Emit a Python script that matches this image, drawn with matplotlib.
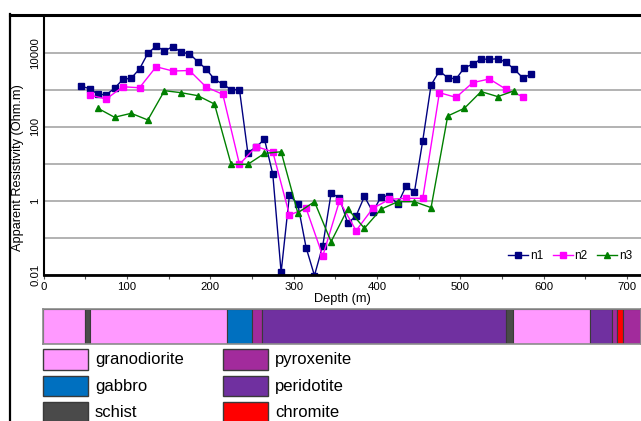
import matplotlib
matplotlib.use("Agg")
import matplotlib.pyplot as plt
from matplotlib.patches import Rectangle
from matplotlib.lines import Line2D
from matplotlib.ticker import MultipleLocator, NullLocator

plt.rcParams['font.family'] = ['Liberation Sans', 'DejaVu Sans']

# apparent resistivity for each n level (Ohm.m)
n1_depth = list(range(45, 586, 10))
n1_res = [1240, 1070, 755, 730, 1090, 1900, 2040, 3630, 9600, 15100,
          11100, 14700, 10200, 9400, 5700, 3630, 1900, 1420, 1000, 1000,
          20, 28, 46, 5.2, 0.0116, 1.43, 0.81, 0.054, 0.0095, 0.061,
          1.58, 1.2, 0.245, 0.39, 1.3, 0.5, 1.28, 1.36, 0.81, 2.5,
          1.7, 42, 1340, 3200, 2100, 1950, 3950, 4860, 6770, 6600,
          6900, 5500, 3550, 2100, 2600]
n2_depth = list(range(55, 576, 20))
n2_res = [720, 560, 1200, 1130, 4170, 3200, 3300, 1180, 750, 9.6,
          29, 21, 0.41, 0.62, 0.032, 0.98, 0.155, 0.62, 1.09, 1.16,
          1.16, 830, 620, 1550, 1950, 1030, 650]
n3_depth = list(range(65, 566, 20))
n3_res = [315, 180, 230, 152, 940, 830, 690, 410, 9.6, 9.6,
          19, 21, 0.47, 0.94, 0.078, 0.6, 0.18, 0.59, 0.94, 0.94,
          0.65, 195, 315, 890, 650, 940]

# lithology log
lith_from = [0, 50, 56, 221, 251, 262, 555, 563, 656, 682, 688, 695]
lith_to = [50, 56, 221, 251, 262, 555, 563, 656, 682, 688, 695, 720]
lith_rock = ['granodiorite', 'schist', 'granodiorite', 'gabbro', 'pyroxenite',
             'peridotite', 'schist', 'granodiorite', 'peridotite', 'pyroxenite',
             'chromite', 'pyroxenite']
rock_names = ['granodiorite', 'gabbro', 'schist', 'pyroxenite', 'peridotite', 'chromite']
rock_colors = ['#ff99ff', '#0070c0', '#4a4a4a', '#a22b9c', '#7030a0', '#ff0000']
colors = dict(zip(rock_names, rock_colors))

W, H = 641, 421
def fx(px):
    return px / W
def fy(py):
    return 1 - py / H

fig = plt.figure(figsize=(W / 100, H / 100), dpi=100)

# main chart
ax = fig.add_axes([fx(43.7), fy(274.7), (W - 43.7) / W, (274.7 - 15.7) / H])
ax.plot(n1_depth, n1_res, color='#000080', marker='s', ms=4.4, lw=1, label='n1')
ax.plot(n2_depth, n2_res, color='#ff00ff', marker='s', ms=4.4, lw=1, label='n2')
ax.plot(n3_depth, n3_res, color='#008000', marker='^', ms=5, lw=1, label='n3')

ax.set_yscale('log')
ax.set_ylim(0.01, 1e5)
ax.set_xlim(0, 717)
yt = [0.01, 0.1, 1, 10, 100, 1000, 10000, 100000]
ylab = ['0.01', '', '1', '', '100', '', '10000', '']
ax.set_yticks(yt, ylab)
ax.yaxis.set_minor_locator(NullLocator())
ax.xaxis.set_major_locator(MultipleLocator(100))
ax.xaxis.set_minor_locator(MultipleLocator(50))
ax.grid(axis='y', color='#a6a6a6', lw=1.2)
ax.set_axisbelow(True)
ax.tick_params(axis='y', labelrotation=90, labelsize=8.2, length=0, pad=2.5)
for t in ax.get_yticklabels():
    t.set_va('center')
ax.tick_params(axis='x', labelsize=8.2, length=3, width=0.8, pad=2.5, color='#555555')
ax.tick_params(axis='x', which='minor', length=3, width=0.8, color='#555555')
for s in ['top', 'right']:
    ax.spines[s].set_visible(False)
ax.spines['left'].set_linewidth(1.5)
ax.spines['bottom'].set_linewidth(2)
ax.set_xlabel('Depth (m)', fontsize=9.2, labelpad=0.5)
ax.set_ylabel('Apparent Resistivity (Ohm.m)', fontsize=9.2)
ax.yaxis.set_label_coords(-0.033, 0.412)
ax.legend(loc='center right', bbox_to_anchor=(0.985, 0.072), ncol=3, frameon=False,
          fontsize=8.5, handlelength=1.7, handletextpad=0.15, columnspacing=0.8,
          borderpad=0, borderaxespad=0)

# lithology bar
ax2 = fig.add_axes([fx(43), fy(344), (W - 43) / W, (344 - 309) / H])
ax2.barh(0, [b - a for a, b in zip(lith_from, lith_to)], left=lith_from, height=1,
         color=[colors[r] for r in lith_rock], edgecolor='#3a3a3a', lw=0.8)
ax2.set_xlim(0, 717)
ax2.set_ylim(-0.5, 0.5)
ax2.set_xticks([])
ax2.set_yticks([])
for s in ax2.spines.values():
    s.set_color('#8c8c8c')
    s.set_linewidth(1.2)

# lithology legend
for i, (name, c) in enumerate(zip(rock_names, rock_colors)):
    col, row = divmod(i, 3)
    x0 = 43 + col * 180
    y0 = 349 + row * 26.5
    fig.add_artist(Rectangle((fx(x0), fy(y0 + 20.5)), 45 / W, 20.5 / H,
                             transform=fig.transFigure, facecolor=c,
                             edgecolor='#3a3a3a', lw=1))
    fig.text(fx(x0 + 52), fy(y0 + 10.5), name, fontsize=12, va='center', ha='left')

# outer frame
fig.add_artist(Line2D([fx(10), fx(10)], [fy(14), 0], color='black', lw=1.6))
fig.add_artist(Line2D([fx(10), 1], [fy(14.5), fy(14.5)], color='black', lw=2.2))

fig.savefig('out.png', dpi=100)
